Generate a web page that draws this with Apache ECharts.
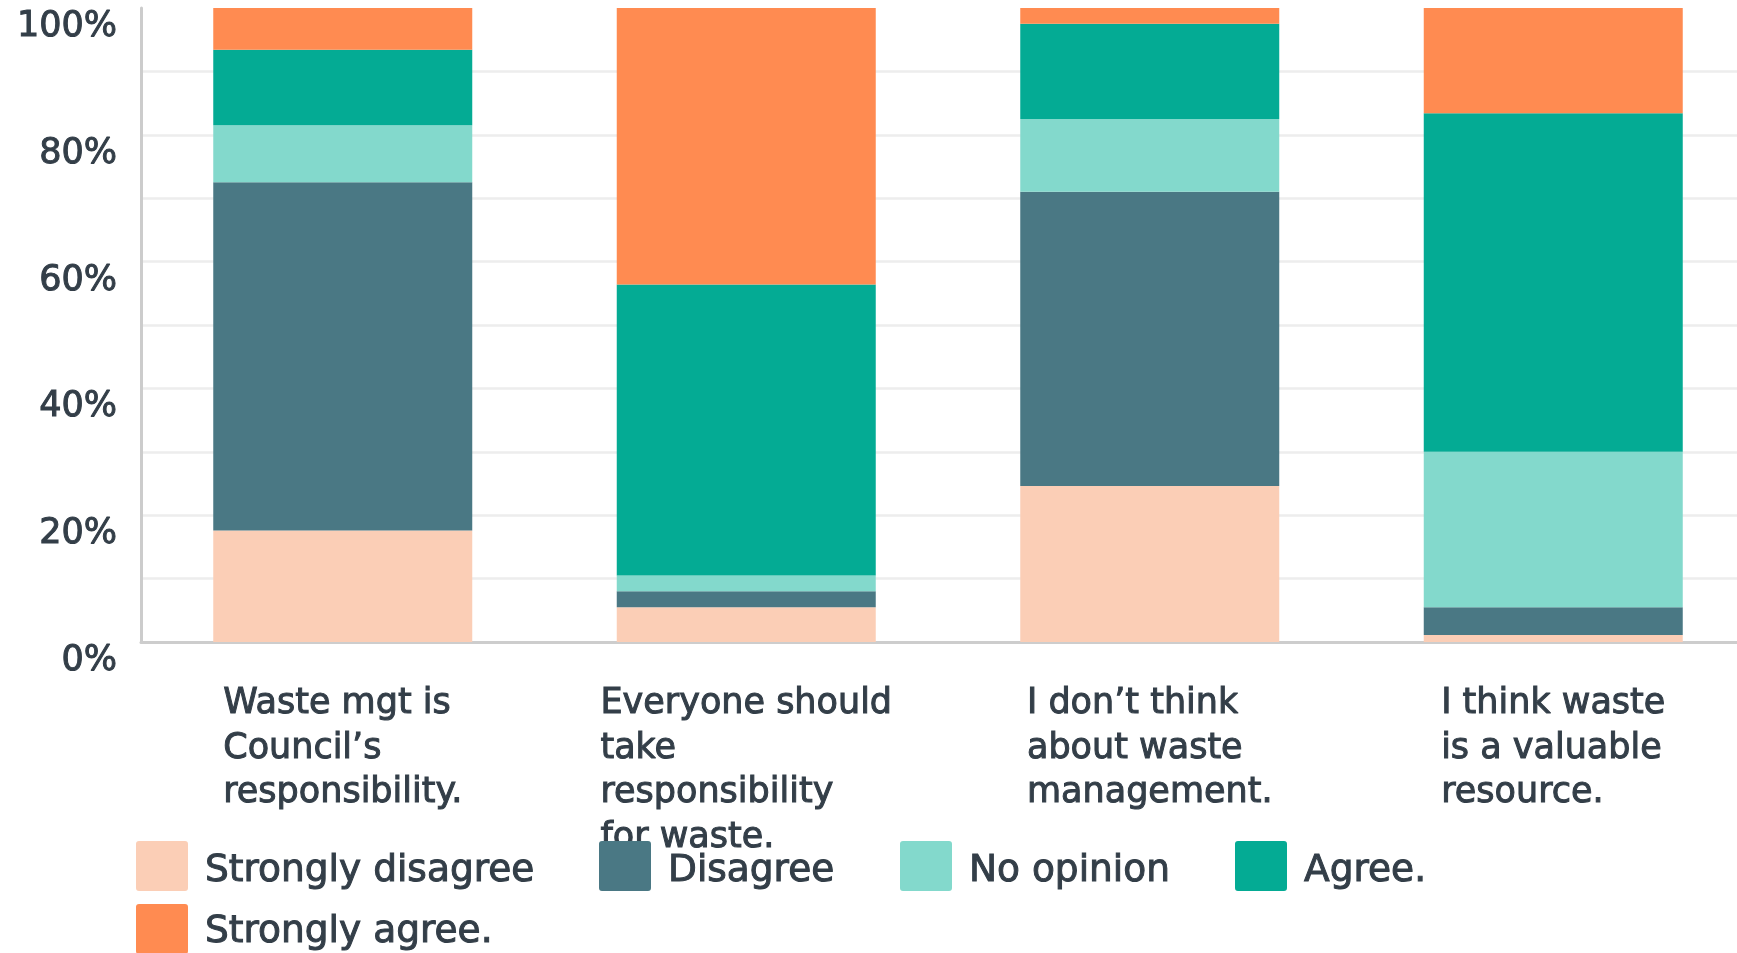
<!DOCTYPE html>
<html>
<head>
<meta charset="utf-8">
<title>Attitudes to waste</title>
<script src="https://cdn.jsdelivr.net/npm/echarts@6/dist/echarts.min.js"></script>
<style>
  html, body { margin: 0; padding: 0; background: #ffffff; }
  #chart { width: 1737px; height: 953px; }
</style>
</head>
<body>
<div id="chart"></div>
<script>
// Survey statements (line breaks as laid out under each bar)
const categories = [
  'Waste mgt is\nCouncil\u2019s\nresponsibility.',
  'Everyone should\ntake\nresponsibility\nfor waste.',
  'I don\u2019t think\nabout waste\nmanagement.',
  'I think waste\nis a valuable\nresource.'
];

// Share of respondents per answer, in percent
const stronglyDisagree = [17.6, 5.5, 24.6, 1.1];
const disagree         = [54.9, 2.5, 46.4, 4.4];
const noOpinion        = [9.0, 2.5, 11.5, 24.5];
const agree            = [11.9, 45.9, 15.0, 53.4];
const stronglyAgree    = [6.6, 43.6, 2.5, 16.6];

const seriesNames = ['Strongly disagree', 'Disagree', 'No opinion', 'Agree.', 'Strongly agree.'];
const seriesValues = [stronglyDisagree, disagree, noOpinion, agree, stronglyAgree];
const seriesColors = ['#fbceb6', '#4a7884', '#83d9cc', '#04ab94', '#ff8b51'];

const yTicks = [0, 20, 40, 60, 80, 100];

const FONT = 'DejaVu Sans';
const TEXT = '#333e48';
// a thin outline in the text colour gives the labels a semi-bold weight
const HEAVY = { textBorderColor: TEXT, textBorderWidth: 1 };

// rounded 52x50 swatch; an empty point below it (at depth h) lowers the label a little
function swatch(h) {
  return 'path://M3,0 H49 A3,3 0 0 1 52,3 V47 A3,3 0 0 1 49,50 H3 A3,3 0 0 1 0,47 V3 A3,3 0 0 1 3,0 Z M26,' + h + ' L26.01,' + h + ' Z';
}

function legendAt(name, left, top, h) {
  return {
    data: [name],
    left: left,
    top: top,
    orient: 'horizontal',
    padding: 0,
    itemWidth: 52,
    itemHeight: h,
    icon: swatch(h),
    selectedMode: false,
    textStyle: Object.assign({
      fontFamily: FONT,
      fontSize: 37.5,
      color: TEXT,
      padding: [0, 0, 0, 12]
    }, HEAVY)
  };
}

const chart = echarts.init(document.getElementById('chart'), null, { renderer: 'canvas' });

chart.setOption({
  animation: false,
  backgroundColor: '#ffffff',
  color: seriesColors,
  grid: { left: 141, right: -18, top: 8, bottom: 311, containLabel: false, outerBoundsMode: 'none' },
  legend: [
    legendAt(seriesNames[0], 136, 841, 60),
    legendAt(seriesNames[1], 599, 841, 60),
    legendAt(seriesNames[2], 900, 841, 60),
    legendAt(seriesNames[3], 1235, 841, 60),
    legendAt(seriesNames[4], 136, 904, 56)
  ],
  xAxis: {
    type: 'category',
    data: categories,
    axisLine: { show: true, lineStyle: { color: '#cdcdcd', width: 3 } },
    axisTick: { show: false },
    axisLabel: {
      interval: 0,
      margin: 40,
      align: 'center',
      verticalAlign: 'top',
      hideOverlap: false,
      formatter: function (v) {
        return v.split('\n').map(function (s) { return '{l|' + s + '}'; }).join('\n');
      },
      rich: {
        l: Object.assign({ align: 'left', fontFamily: FONT, fontSize: 35, lineHeight: 44.5, color: TEXT }, HEAVY)
      }
    }
  },
  yAxis: {
    type: 'value',
    min: 0,
    max: 100,
    interval: 10,
    axisLine: { show: true, lineStyle: { color: '#cccccc', width: 3 } },
    axisTick: { show: false },
    splitLine: { show: true, showMaxLine: false, lineStyle: { color: '#ededed', width: 2.5 } },
    axisLabel: Object.assign({
      margin: 24,
      fontFamily: FONT,
      fontSize: 35,
      color: TEXT,
      verticalAlign: 'top',
      lineHeight: 38,
      formatter: function (v) { return yTicks.indexOf(v) >= 0 ? v + '%' : ''; }
    }, HEAVY)
  },
  series: seriesNames.map(function (name, i) {
    return {
      name: name,
      type: 'bar',
      stack: 'share',
      barWidth: 259,
      data: seriesValues[i],
      itemStyle: { color: seriesColors[i] },
      emphasis: { disabled: true }
    };
  })
});
</script>
</body>
</html>
